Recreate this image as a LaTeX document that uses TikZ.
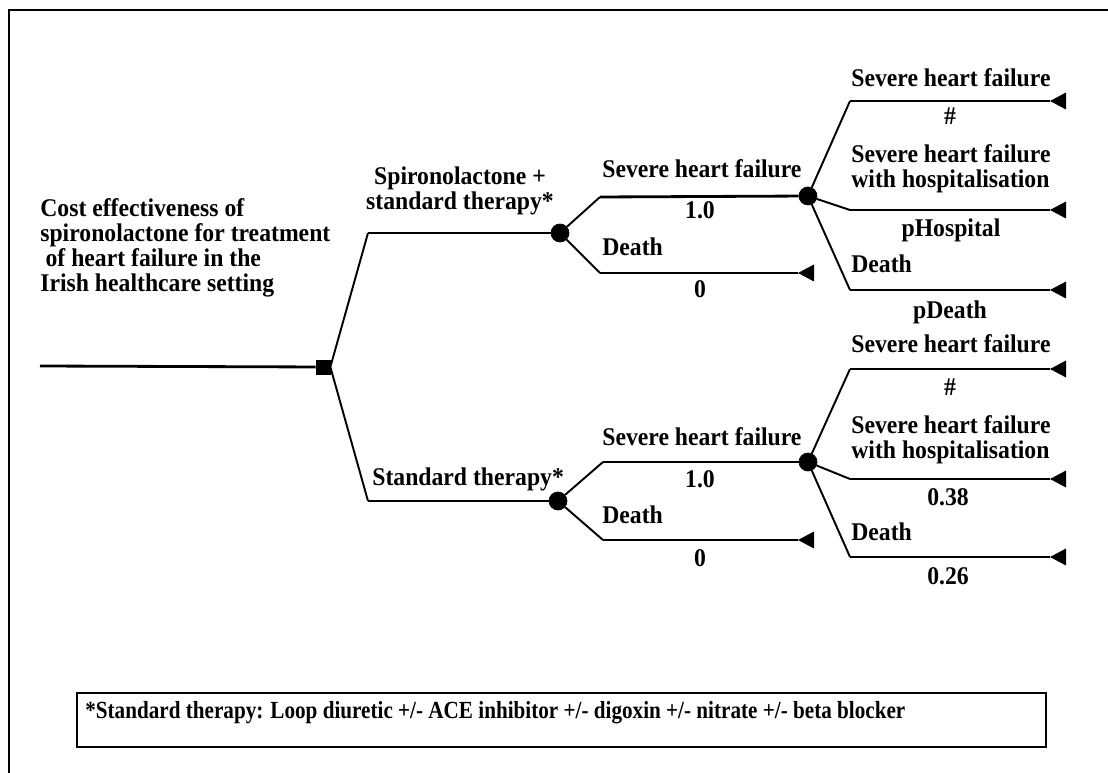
\documentclass[tikz,border=0pt]{standalone}
\usepackage{fontspec}
\setmainfont{Liberation Serif}[FakeStretch=0.93]
\newfontfamily\notefont{Liberation Serif}[FakeStretch=0.86]
\begin{document}
\begin{tikzpicture}[
      x=0.02cm,y=-0.02cm,
      every node/.style={font=\bfseries\fontsize{14.5}{14.2}\selectfont,inner sep=0pt},
      decision/.style={draw,fill,rectangle,minimum size=0.28cm,inner sep=0pt},
      chance/.style={draw,fill,circle,minimum size=0.36cm,inner sep=0pt},
      branch/.style={line width=1.6pt},
      slant/.style={line width=1.1pt},
      lbl/.style={anchor=base west},
      prob/.style={anchor=base},
      endtri/.pic={\fill (0,0) -- (16,-8.5) -- (16,8.5) -- cycle;},
    ]
    \useasboundingbox (0,0) rectangle (1108,773);
    \draw[line width=1.1pt] (9,773) -- (9,10) -- (1108,10);

    % decision and the two arms
    \coordinate (r0) at (40,366);
    \node[decision] (d) at (323,367) {};
    \coordinate (ks) at (368,233);
    \coordinate (kt) at (368,501);
    \node[chance] (cs) at (560,233) {};
    \node[chance] (ct) at (558,501) {};
    \draw[branch] (r0) -- (d);
    \draw[slant] (d.east) -- (ks);
    \draw[slant] (d.east) -- (kt);
    \draw[branch] (ks) -- (cs);
    \draw[branch] (kt) -- (ct);

    % spironolactone arm
    \coordinate (ks1) at (600,197);
    \coordinate (ks2) at (600,273);
    \node[chance] (cs1) at (808,196) {};
    \coordinate (ts2) at (798,273);
    \draw[slant] (cs) -- (ks1);
    \draw[slant] (cs) -- (ks2);
    \draw[branch] (ks1) -- (cs1);
    \draw[branch] (ks2) -- (ts2);
    \pic at (ts2) {endtri};
    \coordinate (ks11) at (850,101);
    \coordinate (ks12) at (850,210);
    \coordinate (ks13) at (850,290);
    \coordinate (ts11) at (1050,101);
    \coordinate (ts12) at (1050,210);
    \coordinate (ts13) at (1050,290);
    \foreach \i in {11,12,13} {
      \draw[slant] (cs1) -- (ks\i);
      \draw[branch] (ks\i) -- (ts\i);
      \pic at (ts\i) {endtri};
    }

    % standard therapy arm
    \coordinate (kt1) at (603,462);
    \coordinate (kt2) at (603,540);
    \node[chance] (ct1) at (808,462) {};
    \coordinate (tt2) at (798,540);
    \draw[slant] (ct) -- (kt1);
    \draw[slant] (ct) -- (kt2);
    \draw[branch] (kt1) -- (ct1);
    \draw[branch] (kt2) -- (tt2);
    \pic at (tt2) {endtri};
    \coordinate (kt11) at (850,369);
    \coordinate (kt12) at (850,479);
    \coordinate (kt13) at (850,557);
    \coordinate (tt11) at (1050,369);
    \coordinate (tt12) at (1050,479);
    \coordinate (tt13) at (1050,557);
    \foreach \i in {11,12,13} {
      \draw[slant] (ct1) -- (kt\i);
      \draw[branch] (kt\i) -- (tt\i);
      \pic at (tt\i) {endtri};
    }

    % labels
    \node[anchor=west,align=left] (title) at (40,248)
      {Cost effectiveness of\\spironolactone for treatment\\\hspace{3pt}of heart failure in the\\Irish healthcare setting};
    \node[align=center,font=\bfseries\fontsize{14.5}{12.5}\selectfont] (lspiro) at (460,191)
      {Spironolactone +\\standard therapy*};
    \node[lbl] (lstd) at (372,485) {Standard therapy*};

    \node[lbl] (ls1) at (602,178) {Severe heart failure};
    \node[prob] (ps1) at (700,219) {1.0};
    \node[lbl] (ls2) at (602,256) {Death};
    \node[prob] (ps2) at (700,297) {0};
    \node[lbl] (ls11) at (851,87) {Severe heart failure};
    \node[prob] (ps11) at (950,125) {\#};
    \node[anchor=west,align=left] (ls12) at (851,169)
      {Severe heart failure\\with hospitalisation};
    \node[prob] (ps12) at (951,237) {pHospital};
    \node[lbl] (ls13) at (851,273) {Death};
    \node[prob] (ps13) at (950,318) {pDeath};

    \node[lbl] (lt1) at (602,445) {Severe heart failure};
    \node[prob] (pt1) at (700,487) {1.0};
    \node[lbl] (lt2) at (602,523) {Death};
    \node[prob] (pt2) at (700,566) {0};
    \node[lbl] (lt11) at (851,352) {Severe heart failure};
    \node[prob] (pt11) at (950,395) {\#};
    \node[anchor=west,align=left] (lt12) at (851,440)
      {Severe heart failure\\with hospitalisation};
    \node[prob] (pt12) at (948,505) {0.38};
    \node[lbl] (lt13) at (851,540) {Death};
    \node[prob] (pt13) at (948,584) {0.26};

    % footnote
    \draw[line width=1.2pt] (77,693) rectangle (1046,747);
    \node[lbl,font=\notefont\bfseries\fontsize{14}{16}\selectfont] (fnote) at (85,718)
      {*Standard therapy: Loop diuretic +/- ACE inhibitor +/- digoxin +/- nitrate +/- beta blocker};
  \end{tikzpicture}
\end{document}
